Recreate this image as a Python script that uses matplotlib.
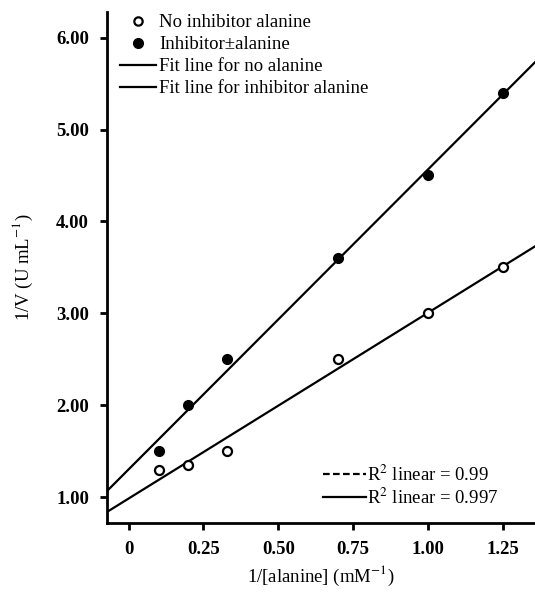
import numpy as np
import matplotlib
matplotlib.use("Agg")
import matplotlib.pyplot as plt
from matplotlib.lines import Line2D

plt.rcParams['font.family'] = ['Liberation Serif', 'DejaVu Serif']
plt.rcParams['mathtext.fontset'] = 'stix'

# ── Data ─────────────────────────────────────────────────────────────────────
inv_ala = [0.10, 0.20, 0.33, 0.70, 1.00, 1.25]
inv_v_no_inhib = [1.30, 1.35, 1.50, 2.50, 3.00, 3.50]
inv_v_inhib = [1.50, 2.00, 2.50, 3.60, 4.50, 5.40]
xticks = [0, 0.25, 0.50, 0.75, 1.00, 1.25]
xtick_labels = ['0', '0.25', '0.50', '0.75', '1.00', '1.25']
yticks = [1, 2, 3, 4, 5, 6]
ytick_labels = ['1.00', '2.00', '3.00', '4.00', '5.00', '6.00']

# ── Linear fits ──────────────────────────────────────────────────────────────
p_no = np.polyfit(inv_ala, inv_v_no_inhib, 1)
p_in = np.polyfit(inv_ala, inv_v_inhib, 1)

fig = plt.figure(figsize=(5.35, 5.92), dpi=100)
ax = fig.add_axes([0.2, 0.1166, 0.8, 0.8634])

xmin, xmax = -0.072, 1.357
xs = np.array([xmin, xmax])
ax.plot(xs, np.polyval(p_no, xs), color='black', lw=1.6)
ax.plot(xs, np.polyval(p_in, xs), color='black', lw=1.6)

ax.plot(inv_ala, inv_v_no_inhib, 'o', mfc='white', mec='black', mew=1.6,
        ms=6.5, ls='none')
ax.plot(inv_ala, inv_v_inhib, 'o', mfc='black', mec='black', ms=7, ls='none')

fs = 13.5
ax.set_xlim(xmin, xmax)
ax.set_ylim(0.72, 6.28)
ax.set_xticks(xticks)
ax.set_xticklabels(xtick_labels, fontsize=fs, fontweight='bold')
ax.set_yticks(yticks)
ax.set_yticklabels(ytick_labels, fontsize=fs, fontweight='bold')
ax.tick_params(direction='out', length=5, width=2, pad=8)
for side in ('top', 'right'):
    ax.spines[side].set_visible(False)
for side in ('left', 'bottom'):
    ax.spines[side].set_linewidth(2)

ax.set_xlabel('1/[alanine] (mM$^{-1}$)', fontsize=fs, labelpad=4)
ax.set_ylabel('1/V (U mL$^{-1}$)', fontsize=fs, labelpad=15)

# ── Legends ──────────────────────────────────────────────────────────────────
h1 = [
    Line2D([], [], marker='o', ls='none', mfc='white', mec='black', mew=1.6, ms=6),
    Line2D([], [], marker='o', ls='none', mfc='black', mec='black', ms=7),
    Line2D([], [], color='black', lw=1.6),
    Line2D([], [], color='black', lw=1.6),
]
l1 = ['No inhibitor alanine', 'Inhibitor\u00b1alanine',
      'Fit line for no alanine', 'Fit line for inhibitor alanine']
leg1 = ax.legend(h1, l1, loc='upper left', bbox_to_anchor=(0.013, 1.01),
                 frameon=False, fontsize=fs, handlelength=1.9,
                 handletextpad=0.2, labelspacing=0.26, borderaxespad=0)
ax.add_artist(leg1)

h2 = [
    Line2D([], [], color='black', lw=1.6, dashes=(3, 1.5)),
    Line2D([], [], color='black', lw=1.6),
]
l2 = ['R$^2$ linear = 0.99', 'R$^2$ linear = 0.997']
ax.legend(h2, l2, loc='lower left', bbox_to_anchor=(0.486, 0.015),
          frameon=False, fontsize=fs, handlelength=2.3,
          handletextpad=0.05, labelspacing=0.15, borderaxespad=0)

fig.savefig('out.png', dpi=100)
